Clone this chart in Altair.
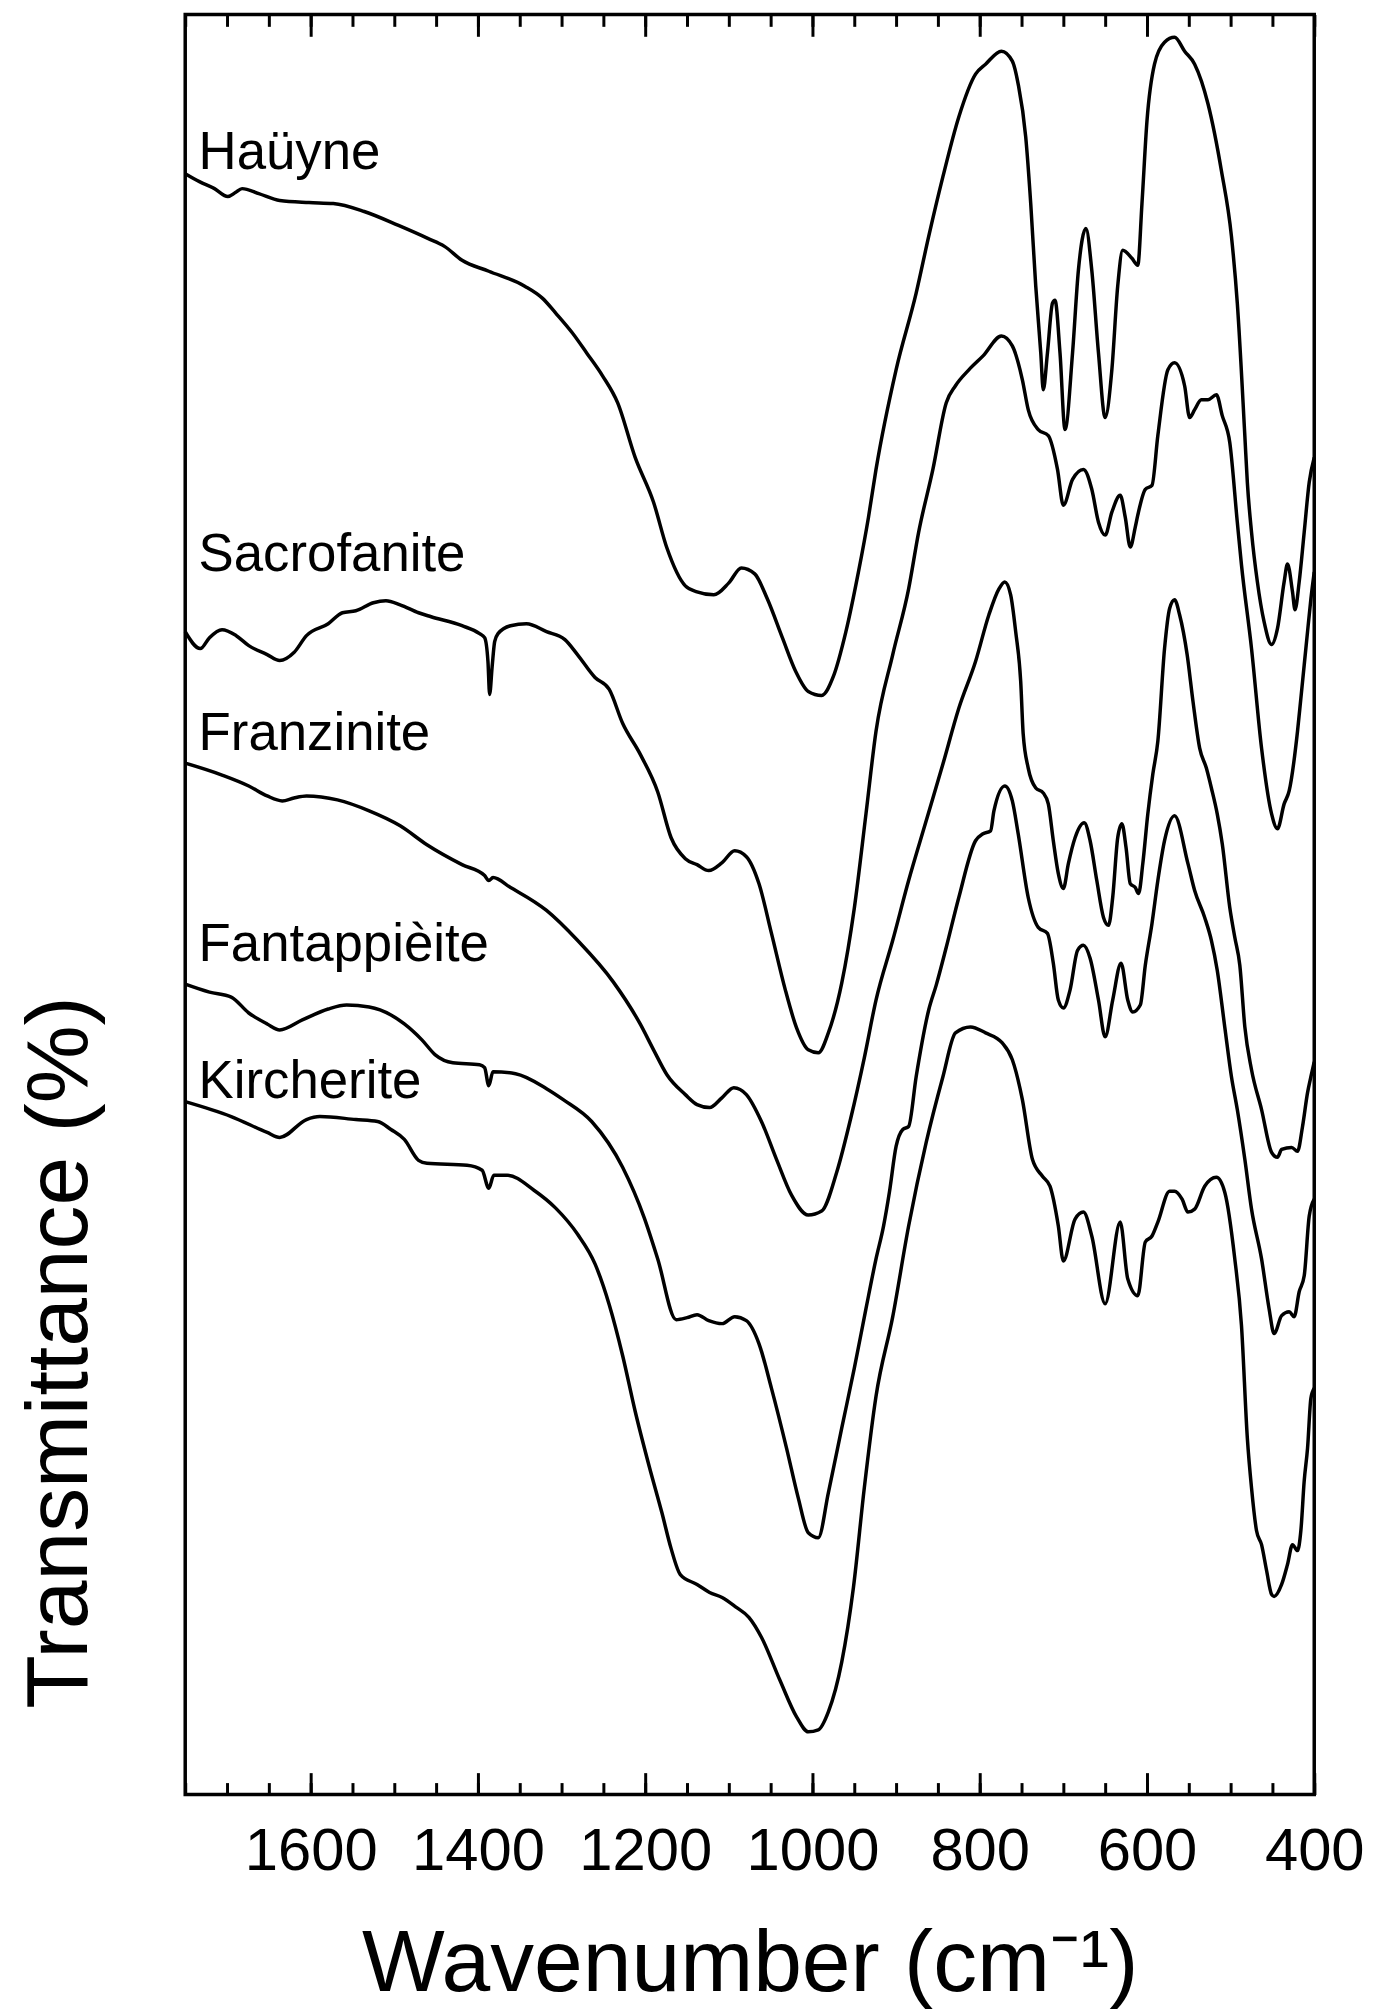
import altair as alt
import pandas as pd

# ---- spectra (wavenumber in cm-1, stacked transmittance in arbitrary units) ----
hauyne_w = [1750,1733,1715,1699,1690,1682,1662,1637,1602,1573,
            1536,1495,1460,1440,1419,1387,1344,1323,1307,1287,
            1270,1251,1233,1212,1190,1174,1152,1138,1118,1100,
            1085,1069,1054,1036,1020,1005,989,975,960,945,
            933,924,900,876,861,844,825,805,793,774,
            761,754,745,739,733,727,724,719,713,710,
            704,698,689,682,673,666,658,650,642,635,
            629,618,611,606,600,591,579,567,555,543,
            527,511,499,492,483,480,475,468,460,451,
            444,436,432,426,423,418,412,406,400]
hauyne_t = [1628,1620,1613,1605,1609,1613,1608,1601,1599,1598,
            1590,1576,1563,1555,1541,1530,1515,1503,1488,1468,
            1448,1425,1398,1343,1298,1252,1214,1208,1205,1217,
            1232,1226,1201,1162,1128,1108,1104,1123,1168,1228,
            1283,1331,1431,1508,1565,1625,1685,1728,1738,1751,
            1741,1718,1665,1598,1515,1448,1411,1448,1498,1501,
            1448,1371,1448,1531,1573,1531,1448,1383,1431,1515,
            1551,1543,1536,1598,1681,1738,1760,1765,1751,1738,
            1698,1631,1565,1498,1365,1318,1268,1218,1178,1155,
            1171,1218,1236,1208,1190,1218,1268,1318,1343]

sacro_w = [1750,1732,1721,1706,1689,1674,1652,1637,1620,1605,
           1579,1562,1546,1525,1510,1493,1471,1456,1419,1398,
           1392,1388,1386,1383,1380,1376,1361,1342,1318,1296,
           1281,1260,1243,1227,1206,1185,1169,1152,1138,1124,
           1108,1093,1079,1064,1049,1033,1019,1005,993,981,
           965,950,936,924,904,885,873,856,840,829,
           813,796,774,761,749,742,730,718,707,700,
           689,676,666,658,650,642,632,626,620,614,
           611,602,594,587,575,567,555,549,543,535,
           527,517,510,501,492,487,475,463,451,444,
           436,430,420,416,408,404,400]
sacro_t = [1168,1151,1162,1170,1164,1154,1145,1139,1147,1164,
           1176,1187,1189,1197,1199,1195,1187,1183,1174,1166,
           1162,1138,1105,1133,1158,1166,1174,1176,1168,1160,
           1145,1122,1110,1076,1045,1007,961,940,934,928,
           936,948,942,915,865,810,770,748,745,765,
           815,890,985,1068,1145,1211,1268,1331,1398,1415,
           1431,1445,1465,1455,1421,1391,1371,1365,1331,1295,
           1321,1331,1311,1278,1265,1288,1305,1283,1253,1273,
           1285,1311,1315,1365,1431,1438,1415,1383,1391,1401,
           1401,1406,1385,1358,1278,1235,1151,1051,985,970,
           995,1008,1068,1101,1168,1201,1228]

franz_w = [1750,1706,1674,1652,1634,1620,1605,1568,1530,1493,
           1461,1419,1392,1387,1382,1361,1318,1281,1238,1206,
           1190,1174,1152,1138,1123,1108,1094,1079,1061,1043,
           1025,1005,989,971,954,938,924,904,885,864,
           844,825,805,789,777,770,763,757,751,748,
           742,733,724,718,712,706,700,694,686,675,
           668,660,652,646,641,635,630,625,620,614,
           610,605,599,593,587,579,573,567,561,552,
           545,537,529,523,516,510,501,495,489,483,
           475,463,451,444,439,427,420,414,408,404,
           400]
franz_t = [1036,1024,1013,1003,998,1001,1003,999,988,973,
           954,934,923,918,921,911,888,858,816,774,
           748,723,703,693,690,700,710,703,676,638,
           602,582,586,625,680,740,798,858,918,978,
           1035,1091,1138,1185,1211,1218,1205,1168,1118,1065,
           1031,1011,1006,995,958,925,910,935,961,976,
           958,918,881,873,901,961,975,951,915,911,
           905,935,985,1025,1058,1151,1191,1200,1185,1145,
           1098,1051,1031,1011,985,955,891,861,833,771,
           728,688,645,640,648,650,646,671,705,721,
           736]

fanta_w = [1750,1721,1695,1674,1652,1637,1610,1579,1557,1530,
           1504,1488,1467,1451,1430,1398,1392,1387,1382,1355,
           1318,1298,1264,1227,1201,1185,1163,1150,1138,1124,
           1108,1093,1079,1064,1049,1031,1017,1005,993,981,
           965,950,936,924,915,908,900,892,885,876,
           861,852,840,825,805,796,787,783,770,761,
           754,742,730,719,712,706,700,692,683,676,
           668,658,650,641,631,623,617,608,602,594,
           587,579,567,551,543,531,523,516,507,499,
           492,483,475,463,454,448,439,430,424,418,
           412,406,400]
fanta_t = [814,806,801,785,774,768,778,789,793,791,
           783,774,758,743,735,733,730,712,726,724,
           709,698,676,630,579,538,477,479,482,476,
           473,480,476,453,408,348,298,263,258,303,
           368,428,488,538,571,605,651,668,671,721,
           788,813,851,901,958,965,968,988,1013,998,
           965,901,871,865,835,798,790,808,848,853,
           840,798,761,798,835,798,786,793,833,875,
           918,958,983,935,908,881,858,828,771,721,
           688,638,588,538,488,463,481,485,480,505,
           521,581,598]

kirch_w = [1750,1695,1652,1637,1605,1589,1546,1520,1504,1488,
           1471,1461,1413,1395,1387,1381,1365,1333,1307,1281,
           1260,1243,1227,1212,1195,1180,1169,1158,1138,1123,
           1108,1091,1076,1061,1039,1019,1005,993,981,965,
           951,938,924,904,885,864,844,829,811,793,
           773,761,749,737,725,716,706,700,686,676,
           666,650,632,623,611,602,594,587,573,567,
           558,551,543,531,517,507,495,487,480,475,
           469,463,457,451,448,439,432,426,420,416,
           412,408,404,400]
kirch_t = [696,681,665,660,678,681,678,676,668,658,
           637,634,632,627,609,622,622,607,589,563,
           533,492,441,385,329,283,247,221,211,203,
           198,188,178,158,115,78,63,65,83,133,
           208,308,400,480,571,655,721,765,771,765,
           755,738,698,638,621,611,571,536,578,585,
           561,493,575,518,501,555,561,575,606,606,
           598,585,588,611,620,605,538,471,358,308,
           265,251,225,201,199,211,231,251,245,265,
           315,348,398,408]

# ---- curve labels ----
label_names = ["Haüyne", "Sacrofanite", "Franzinite", "Fantappièite", "Kircherite"]
label_w = [1734, 1734, 1734, 1734, 1734]
label_t = [1633, 1229, 1049, 837, 700]

# ---- axis ticks and titles ----
major_ticks = [1600, 1400, 1200, 1000, 800, 600, 400]
minor_ticks = [1750, 1700, 1650, 1600, 1550, 1500, 1450, 1400, 1350, 1300, 1250,
               1200, 1150, 1100, 1050, 1000, 950, 900, 850, 800, 750, 700, 650,
               600, 550, 500, 450, 400]
x_title = "Wavenumber (cm⁻¹)"
y_title = "Transmittance (%)"

series = [("Haüyne", hauyne_w, hauyne_t),
          ("Sacrofanite", sacro_w, sacro_t),
          ("Franzinite", franz_w, franz_t),
          ("Fantappièite", fanta_w, fanta_t),
          ("Kircherite", kirch_w, kirch_t)]
rows = []
for name, ws, ts in series:
    for w, t in zip(ws, ts):
        rows.append({"series": name, "w": w, "T": t})
df = pd.DataFrame(rows)
labels_df = pd.DataFrame({"name": label_names, "w": label_w, "T": label_t})
tick_df = pd.DataFrame({"w": minor_ticks})
ytitle_df = pd.DataFrame({"t": [y_title]})

FONT = "Liberation Sans"
xscale = alt.Scale(domain=[400, 1750], reverse=True, nice=False, zero=False)
yscale = alt.Scale(domain=[0, 1788], nice=False, zero=False)

lines = alt.Chart(df).mark_line(color="black", strokeWidth=3.5, strokeJoin="round",
                                interpolate="monotone").encode(
    x=alt.X("w:Q", scale=xscale,
            axis=alt.Axis(orient="bottom", values=major_ticks, format="d", ticks=False,
                          domain=False, grid=False, labelPadding=28, labelFlush=False,
                          labelOverlap=False, labelFont=FONT, labelFontSize=60,
                          labelColor="black",
                          title=x_title, titleFont=FONT, titleFontSize=88,
                          titleFontWeight="normal", titleColor="black",
                          titleY=197, titleBaseline="alphabetic")),
    y=alt.Y("T:Q", scale=yscale,
            axis=alt.Axis(title=None, labels=False, ticks=False, domain=False, grid=False)),
    detail="series:N",
)

text = alt.Chart(labels_df).mark_text(align="left", baseline="alphabetic", font=FONT,
                                      fontSize=53, color="black").encode(
    x=alt.X("w:Q", scale=xscale, axis=None),
    y=alt.Y("T:Q", scale=yscale, axis=None),
    text="name:N",
)

ytitle = alt.Chart(ytitle_df).mark_text(angle=270, align="center", baseline="alphabetic",
                                        font=FONT, fontSize=88, color="black").encode(
    x=alt.value(-99), y=alt.value(1344), text="t:N")


def tick_layer(orient, values, size):
    return alt.Chart(tick_df).mark_point(opacity=0).encode(
        x=alt.X("w:Q", scale=xscale,
                axis=alt.Axis(orient=orient, values=values, offset=-size, tickSize=size,
                              tickWidth=3, tickColor="black", labels=False, domain=False,
                              grid=False, title=None)))


chart = alt.layer(
    lines, text, ytitle,
    tick_layer("bottom", major_ticks, 22),
    tick_layer("bottom", minor_ticks, 12),
    tick_layer("top", major_ticks, 22),
    tick_layer("top", minor_ticks, 12),
).resolve_axis(x="independent").properties(
    width=1134, height=1788,
    autosize=alt.AutoSizeParams(type="none"),
    padding={"left": 178, "top": 2, "right": 55, "bottom": 214},
).configure_view(stroke="black", strokeWidth=3.5).configure_axis(grid=False)

chart.save("out.html", embed_options={"renderer": "svg", "actions": False})
